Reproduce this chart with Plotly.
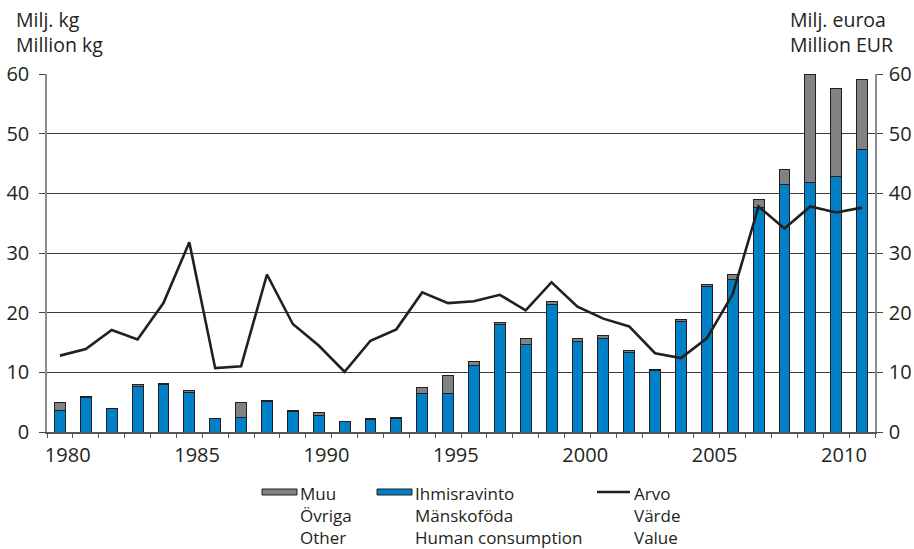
import plotly.graph_objects as go

years = list(range(1980, 2012))
human = [3.6, 5.8, 3.9, 7.7, 7.9, 6.6, 2.2, 2.4, 5.1, 3.4, 2.7, 1.7, 2.1, 2.2, 6.5, 6.5,
         11.1, 18.0, 14.7, 21.4, 15.1, 15.7, 13.4, 10.3, 18.6, 24.4, 25.6, 37.6, 41.5, 41.8, 42.9, 47.4]
other = [1.4, 0.1, 0.1, 0.2, 0.2, 0.3, 0.1, 2.6, 0.2, 0.2, 0.65, 0.1, 0.1, 0.15, 0.9, 2.9,
         0.8, 0.3, 0.9, 0.5, 0.5, 0.5, 0.2, 0.1, 0.2, 0.3, 0.8, 1.4, 2.5, 18.1, 14.7, 11.6]
value = [12.8, 13.9, 17.1, 15.5, 21.6, 31.8, 10.7, 11.0, 26.4, 18.1, 14.5, 10.1, 15.3, 17.2, 23.4, 21.6,
         21.9, 23.0, 20.4, 25.1, 21.0, 19.0, 17.7, 13.2, 12.4, 15.7, 23.1, 37.8, 34.1, 37.8, 36.8, 37.6]
label_years = [1980, 1985, 1990, 1995, 2000, 2005, 2010]
y_ticks = [0, 10, 20, 30, 40, 50, 60]

legend_other = ["Muu", "Övriga", "Other"]
legend_human = ["Ihmisravinto", "Mänskoföda", "Human consumption"]
legend_value = ["Arvo", "Värde", "Value"]
title_left = ["Milj. kg", "Million kg"]
title_right = ["Milj. euroa", "Million EUR"]

BLUE = "#0080c6"
GRAY = "#808285"
DARK = "#231f20"
FONT = "Open Sans"

W, H = 914, 549
L, R, T, B = 47, 875, 74, 432
def px(x):
    return (x - L) / (R - L)
def py(y):
    return (B - y) / (B - T)

fig = go.Figure()
fig.add_trace(go.Bar(x=years, y=human, name="Human", marker=dict(color=BLUE, line=dict(color=DARK, width=1)),
                     width=0.42, showlegend=False))
fig.add_trace(go.Bar(x=years, y=other, name="Other", marker=dict(color=GRAY, line=dict(color=DARK, width=1)),
                     width=0.42, showlegend=False))
fig.add_trace(go.Scatter(x=years, y=value, mode="lines", line=dict(color=DARK, width=2.6),
                         yaxis="y2", showlegend=False))

annotations = [
    dict(text="<br>".join(title_left), xref="paper", yref="paper", x=px(14), y=py(4),
         xanchor="left", yanchor="top", align="left", showarrow=False,
         font=dict(family=FONT, size=19.5, color=DARK)),
    dict(text="<br>".join(title_right), xref="paper", yref="paper", x=px(788), y=py(4),
         xanchor="left", yanchor="top", align="left", showarrow=False,
         font=dict(family=FONT, size=19.5, color=DARK)),
]

for col_x, texts in [(298, legend_other), (413, legend_human), (632, legend_value)]:
    annotations.append(dict(text="<br>".join(texts), xref="paper", yref="paper", x=px(col_x), y=py(480),
                            xanchor="left", yanchor="top", align="left", showarrow=False,
                            font=dict(family=FONT, size=17, color=DARK)))

shapes = [
    dict(type="rect", xref="paper", yref="paper", x0=px(262), x1=px(297), y0=py(489), y1=py(495),
         fillcolor=GRAY, line=dict(color=DARK, width=1)),
    dict(type="rect", xref="paper", yref="paper", x0=px(377), x1=px(412), y0=py(489), y1=py(495),
         fillcolor=BLUE, line=dict(color=DARK, width=1)),
    dict(type="line", xref="paper", yref="paper", x0=px(597), x1=px(630), y0=py(492), y1=py(492),
         line=dict(color=DARK, width=2.6)),
]

fig.update_layout(
    width=W, height=H, autosize=False,
    margin=dict(l=L, r=W - R, t=T, b=H - B, pad=0, autoexpand=False),
    paper_bgcolor="white", plot_bgcolor="white",
    barmode="stack", bargap=0.58,
    font=dict(family=FONT, size=20, color=DARK),
    xaxis=dict(range=[1979.5, 2011.5], tickvals=[y + 0.3 for y in label_years],
               ticktext=[str(y) for y in label_years], ticks="",
               ticklabelstandoff=4, automargin=False,
               tickfont=dict(family=FONT, size=20, color=DARK),
               showline=True, linecolor="#555555", linewidth=1.5, showgrid=False, zeroline=False,
               minor=dict(tickvals=[y - 0.5 for y in years] + [years[-1] + 0.5], ticks="outside",
                          ticklen=4, tickcolor="#555555", tickwidth=1, showgrid=False)),
    yaxis=dict(range=[0, 60], tickvals=y_ticks, ticks="outside", ticklen=6, tickcolor="#444444",
               tickfont=dict(family=FONT, size=20, color=DARK), ticklabelstandoff=6, automargin=False,
               showgrid=True, gridcolor="#3a3a3a", gridwidth=1.2,
               showline=True, linecolor="#8c8c8c", linewidth=1.5, zeroline=False),
    yaxis2=dict(range=[0, 60], tickvals=y_ticks, ticks="outside", ticklen=6, tickcolor="#444444",
                tickfont=dict(family=FONT, size=20, color=DARK), ticklabelstandoff=2, automargin=False,
                overlaying="y", side="right", showgrid=False,
                showline=True, linecolor="#8c8c8c", linewidth=1.5, zeroline=False),
    annotations=annotations,
    shapes=shapes,
)

fig.write_html("out.html", config={"displayModeBar": False, "responsive": False},
               post_script="document.body.style.margin='0';document.body.style.overflow='hidden';")
